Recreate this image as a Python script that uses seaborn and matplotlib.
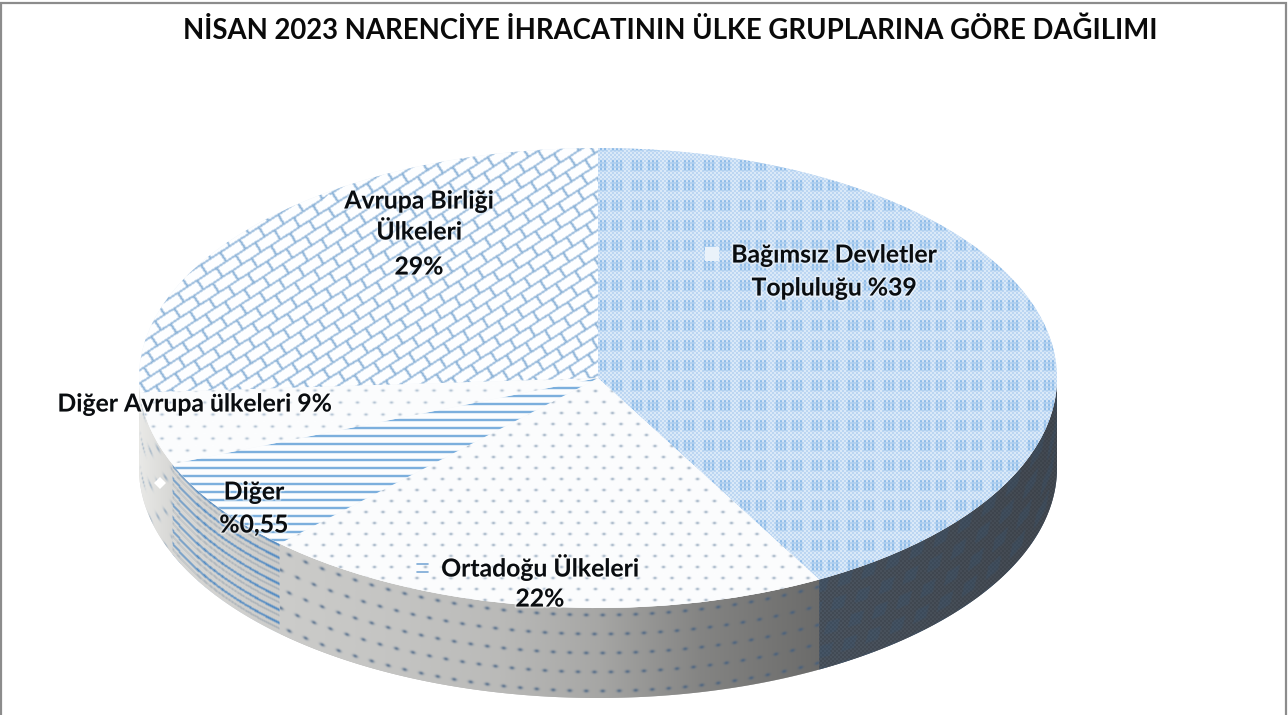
import numpy as np
import matplotlib
matplotlib.use("Agg")
import matplotlib.pyplot as plt
import matplotlib.patheffects as pe
from matplotlib.patches import Rectangle
import seaborn as sns

# Data: drawn slice shares as they appear in the picture (clockwise from 12 o'clock)
groups = ["Bağımsız Devletler Topluluğu", "Ortadoğu Ülkeleri", "Diğer", "Diğer Avrupa ülkeleri", "Avrupa Birliği Ülkeleri"]
drawn_shares = [42.0, 20.2, 6.7, 5.1, 26.0]
label_texts = ["Bağımsız Devletler\nTopluluğu %39", "Ortadoğu Ülkeleri\n22%", "Diğer\n%0,55",
               "Diğer Avrupa ülkeleri 9%", "Avrupa Birliği\nÜlkeleri\n29%"]
title_text = "NİSAN 2023 NARENCİYE İHRACATININ ÜLKE GRUPLARINA GÖRE DAĞILIMI"

W, H = 1288, 715
CX, CY, RX, RY, DEPTH = 598.0, 378.0, 459.0, 230.0, 90.0
FONT = "Lato"

sns.set_theme(style="white")
plt.rcParams["font.family"] = [FONT, "DejaVu Sans"]

fig = plt.figure(figsize=(W / 100, H / 100), dpi=100, facecolor="white")
ax = fig.add_axes([0, 0, 1, 1])
XL = (-CX / RX, (W - CX) / RX)
YL = ((CY - H) / RY, CY / RY)
EXTENT = (XL[0], XL[1], YL[0], YL[1])


def px(x, y):
    return (x - CX) / RX, (CY - y) / RY


yy, xx = np.mgrid[0:H, 0:W].astype(float)
arc = CY + RY * np.sqrt(np.clip(1 - ((xx - CX) / RX) ** 2, 0, 1))
dd = yy - arc  # depth below the rim, for the wall textures


def blur(a, n=1):
    for _ in range(n):
        a = (a * 2 + np.roll(a, 1, 0) + np.roll(a, -1, 0) + np.roll(a, 1, 1) + np.roll(a, -1, 1)) / 6
    return a


def mix(base, colour, amount):
    amount = blur(np.clip(amount, 0, 1))[..., None]
    return base * (1 - amount) + np.array(colour, float) * amount


def flat(colour):
    return np.ones((H, W, 3)) * np.array(colour, float)


def dots(px_, py_, sx, sy, r):
    row = np.floor(py_ / sy)
    ux = np.mod(px_ + row * sx / 2, sx) - sx / 2
    uy = np.mod(py_, sy) - sy / 2
    return np.exp(-(ux ** 2 / (r * 1.3) ** 2 + uy ** 2 / (r * 0.8) ** 2))


def tex_bdt():
    base = flat((252, 253, 255))
    chk = ((np.floor(xx / 2) + np.floor(yy / 2)) % 2 < 1).astype(float)
    clump = (np.mod(xx, 18) < 12) & (np.mod(yy, 20) < 11)
    amt = 0.62 * chk + 0.02 + 0.38 * clump * (np.mod(xx, 4) < 2)
    return mix(base, (105, 165, 225), amt)


def tex_middle():
    base = flat((252, 253, 254))
    return mix(base, (95, 125, 155), 0.8 * dots(xx, yy, 17, 11, 1.3))


def tex_other():
    base = flat((252, 253, 254))
    line = (np.mod(yy - 3, 8) < 1.6).astype(float)
    return mix(base, (91, 155, 213), 0.95 * line)


def tex_eur():
    base = flat((252, 253, 254))
    return mix(base, (110, 140, 170), 0.7 * dots(xx, yy, 17, 12, 1.3))


def tex_eu():
    a = np.deg2rad(33)
    u = xx * np.cos(a) - yy * np.sin(a)
    v = xx * np.sin(a) + yy * np.cos(a)
    s, L = 11.0, 23.0
    row = np.floor(v / s)
    ln = (np.mod(v, s) < 1.7) | (np.mod(u + row * L / 2, L) < 2.2)
    base = flat((253, 254, 255))
    return mix(base, (130, 172, 212), 0.9 * ln.astype(float))


def wall_gray():
    g = np.interp(xx, [130, 170, 280, 400, 500, 600, 700, 815, 1060],
                  [238, 216, 204, 196, 186, 166, 132, 108, 80])
    return np.dstack([g, g, g * 0.99])


def wall_bdt():
    t = np.clip((xx - 815) / 245, 0, 1)[..., None]
    base = np.array((84, 94, 106.0)) * (1 - t) + np.array((74, 80, 88.0)) * t
    base = base * np.ones((H, W, 3))
    chk = ((np.floor(xx / 2) + np.floor(yy / 2)) % 2 < 1).astype(float)
    base = mix(base, (40, 46, 54), 0.6 * chk)
    clump = (np.mod(xx + dd * 0.3, 24) < 13) & (np.mod(dd, 22) < 12)
    return mix(base, (50, 88, 125), 0.22 * clump.astype(float))


def wall_middle():
    return mix(wall_gray(), (62, 92, 128), 0.85 * dots(xx, dd + 3, 16.5, 19, 1.8))


def wall_other():
    base = wall_gray()
    blue = np.mod(dd, 13) < 2.2
    grey = np.mod(dd - 6, 13) < 1.5
    base = mix(base, (75, 135, 195), 0.95 * blue.astype(float))
    return mix(base, (135, 150, 165), 0.6 * grey.astype(float))


def wall_eur():
    return mix(wall_gray(), (85, 125, 165), 0.75 * dots(xx, dd + 3, 15, 17, 1.6))


top_textures = [tex_bdt, tex_middle, tex_other, tex_eur, tex_eu]
wall_textures = [wall_bdt, wall_middle, wall_other, wall_eur, wall_eur]
mean_colours = ["#cfe1f4", "#f6f8fa", "#eef4fa", "#f5f7fa", "#e8f0f8"]
wall_colours = ["#48566a", "#b8b8b8", "#c8ccd2", "#d4d4d4", "#d4d4d4"]


def show(tex, clip, z):
    im = ax.imshow(np.clip(tex, 0, 255).astype(np.uint8), extent=EXTENT, aspect="auto",
                   interpolation="nearest", origin="upper", zorder=z)
    im.set_clip_path(clip)


# Side wall: one band under the visible front arc of each slice
shares = np.array(drawn_shares, float)
ends = np.cumsum(shares) / shares.sum() * 360
starts = np.r_[0, ends[:-1]]
for a0, a1, colour, tex in zip(starts, ends, wall_colours, wall_textures):
    lo, hi = max(a0, 90), min(a1, 270)
    if hi <= lo:
        continue
    th = np.deg2rad(90 - np.linspace(lo, hi, 200))
    xs, ys = np.cos(th), np.sin(th)
    poly = ax.fill(np.r_[xs, xs[::-1]], np.r_[ys, ys[::-1] - DEPTH / RY], color=colour, lw=0, zorder=1)[0]
    show(tex(), poly, 2)

# Top face, drawn by the pie itself
wedges, _ = ax.pie(shares, startangle=90, counterclock=False, radius=1.0, colors=mean_colours,
                   wedgeprops=dict(linewidth=0, zorder=3))
for w, tex in zip(wedges, top_textures):
    w.set_zorder(3)
    show(tex(), w, 4)

ax.set_aspect("auto")
ax.set_xlim(*XL)
ax.set_ylim(*YL)
ax.axis("off")

halo = [pe.withStroke(linewidth=2.5, foreground="white", alpha=0.45)]


def label(x, ys, lines, size=17.8):
    for y, s in zip(ys, lines):
        tx, ty = px(x, y)
        ax.text(tx, ty, s, ha="center", va="center", fontsize=size, fontweight="bold",
                color="#0a0d10", zorder=8, path_effects=halo)


label(834, [255, 288], label_texts[0].split("\n"))
label(540, [567, 599], label_texts[1].split("\n"))
label(254, [492, 525], label_texts[2].split("\n"))
label(194.5, [404], [label_texts[3]])
label(419, [201, 232, 267], label_texts[4].split("\n"))

# Small stray legend keys
for (x, y, c, m, s) in [(160, 483, "white", "D", 6), (329, 200, "white", "D", 6), (712, 254, "#eaf2fa", "s", 10)]:
    tx, ty = px(x, y)
    ax.plot([tx], [ty], marker=m, ms=s, color=c, mew=0, zorder=7)
for y in (564, 572):
    x0, y0 = px(417, y)
    x1, _ = px(428, y)
    ax.plot([x0, x1], [y0, y0], color="#7aa9d6", lw=1.2, zorder=7)

tx, ty = px(670, 31)
ax.text(tx, ty, title_text, ha="center", va="center", fontsize=19.8, fontweight="bold",
        color="#0a0a0a", zorder=8)

fig.patches.append(Rectangle((0.8 / W, -0.01), (W - 2.6) / W, 1 - 2.8 / H + 0.01, transform=fig.transFigure,
                             fill=False, ec="#8c8c8c", lw=1.6, figure=fig))
fig.savefig("out.png", dpi=100)
